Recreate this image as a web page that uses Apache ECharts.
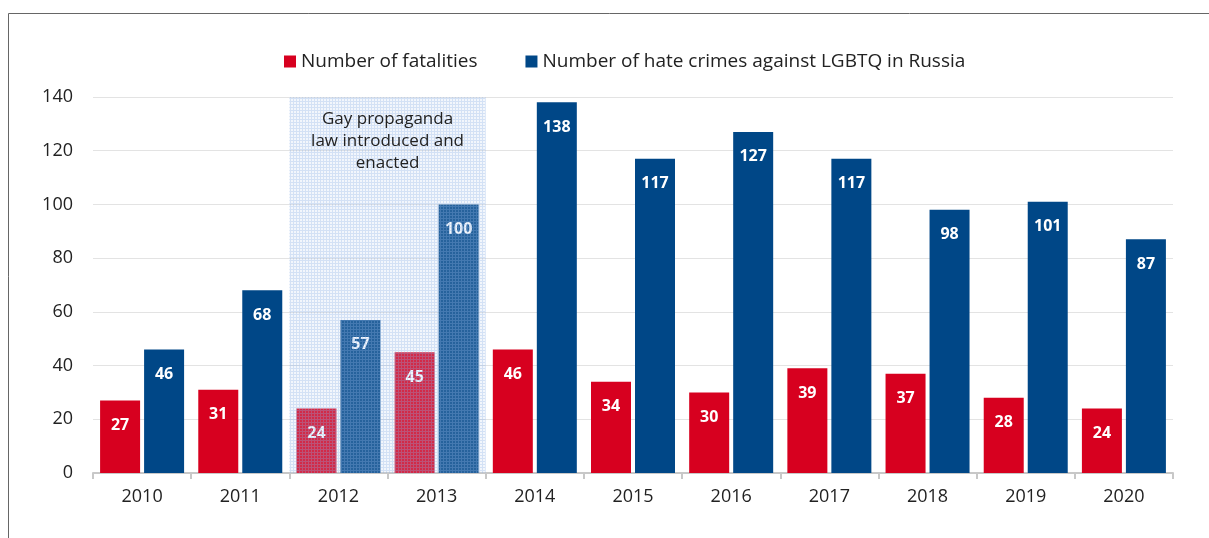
<!DOCTYPE html>
<html>
<head>
<meta charset="utf-8">
<script src="https://cdn.jsdelivr.net/npm/echarts@6/dist/echarts.min.js"></script>
<style>
  html, body { margin: 0; padding: 0; background: #fff; }
  #chart { width: 1209px; height: 538px; }
</style>
</head>
<body>
<div id="chart"></div>
<script>
// data
const years = ['2010', '2011', '2012', '2013', '2014', '2015', '2016', '2017', '2018', '2019', '2020'];
const fatalities = [27, 31, 24, 45, 46, 34, 30, 39, 37, 28, 24];
const hateCrimes = [46, 68, 57, 100, 138, 117, 127, 117, 98, 101, 87];
const lawPeriod = [2, 3]; // 2012..2013 category indices
const lawNote = 'Gay propaganda\nlaw introduced and\nenacted';

const FONT = 'Open Sans';
const RED = '#d7001f';
const BLUE = '#004787';

// small grid pattern for the shaded period
function makePattern() {
  const c = document.createElement('canvas');
  c.width = 3; c.height = 3;
  const ctx = c.getContext('2d');
  ctx.fillStyle = 'rgba(190,210,240,0.2)';
  ctx.fillRect(0, 0, 3, 3);
  ctx.fillStyle = 'rgba(140,175,230,0.3)';
  ctx.fillRect(0, 2, 3, 1);
  ctx.fillRect(2, 0, 1, 2);
  return c;
}

const chart = echarts.init(document.getElementById('chart'));

const barLabel = {
  show: true,
  position: 'insideTop',
  distance: 17,
  color: '#fff',
  fontFamily: FONT,
  fontWeight: 'bold',
  fontSize: 16
};

chart.setOption({
  animation: false,
  textStyle: { fontFamily: FONT },
  graphic: [{
    type: 'rect',
    shape: { x: 8.5, y: 13.5, width: 1300, height: 600 },
    style: { fill: 'none', stroke: '#666', lineWidth: 1 },
    silent: true
  }],
  legend: {
    top: 47,
    left: 279,
    itemWidth: 12,
    itemHeight: 12,
    itemGap: 48,
    icon: 'rect',
    textStyle: { fontSize: 19, color: '#222', fontFamily: FONT },
    data: ['Number of fatalities', 'Number of hate crimes against LGBTQ in Russia']
  },
  grid: { left: 93, right: 36, top: 97, bottom: 65 },
  xAxis: {
    type: 'category',
    data: years,
    axisLine: { lineStyle: { color: '#c8c8c8', width: 2 } },
    axisTick: { show: true, length: 6, lineStyle: { color: '#c8c8c8', width: 2 } },
    axisLabel: { fontSize: 18, color: '#222', margin: 15, fontFamily: FONT }
  },
  yAxis: {
    type: 'value',
    min: 0,
    max: 140,
    interval: 20,
    axisLine: { show: false },
    axisTick: { show: false },
    axisLabel: { fontSize: 18, color: '#222', margin: 20, fontFamily: FONT },
    splitLine: { lineStyle: { color: '#e3e3e3', width: 1 } }
  },
  series: [
    {
      name: 'Number of fatalities',
      type: 'bar',
      data: fatalities,
      barWidth: 40,
      barGap: '10%',
      itemStyle: { color: RED },
      label: barLabel
    },
    {
      name: 'Number of hate crimes against LGBTQ in Russia',
      type: 'bar',
      data: hateCrimes,
      barWidth: 40,
      itemStyle: { color: BLUE },
      label: barLabel
    },
    {
      type: 'custom',
      z: 10,
      silent: true,
      data: [lawPeriod],
      renderItem: function (params, api) {
        const bw = api.size([1, 0])[0];
        const p0 = api.coord([api.value(0), 140]);
        const p1 = api.coord([api.value(1), 0]);
        const x0 = p0[0] - bw / 2;
        const x1 = p1[0] + bw / 2;
        return {
          type: 'group',
          children: [
            {
              type: 'rect',
              shape: { x: x0, y: p0[1], width: x1 - x0, height: p1[1] - p0[1] },
              style: { fill: { image: makePattern(), repeat: 'repeat' } }
            },
            {
              type: 'text',
              style: {
                x: (x0 + x1) / 2,
                y: p0[1] + 11,
                text: lawNote,
                align: 'center',
                verticalAlign: 'top',
                fill: '#222',
                font: '17px "' + FONT + '"',
                lineHeight: 22
              }
            }
          ]
        };
      }
    }
  ]
});
</script>
</body>
</html>
